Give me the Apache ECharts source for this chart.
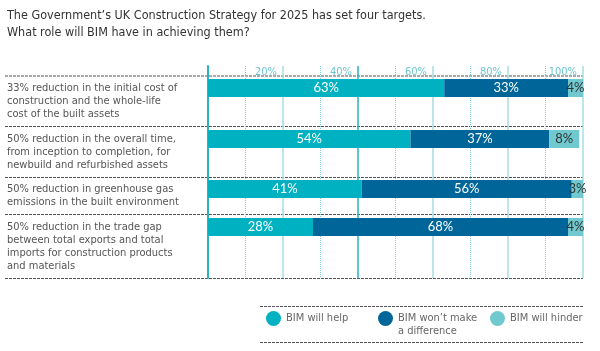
<!DOCTYPE html>
<html>
<head>
<meta charset="utf-8">
<script src="https://cdn.jsdelivr.net/npm/echarts@6/dist/echarts.min.js"></script>
<style>
  html, body { margin: 0; padding: 0; background: #fff; }
  #chart { width: 600px; height: 351px; }
</style>
</head>
<body>
<div id="chart"></div>
<script>
// 四个目标（类目）
const categories = [
  '33% reduction in the initial cost of\nconstruction and the whole-life\ncost of the built assets',
  '50% reduction in the overall time,\nfrom inception to completion, for\nnewbuild and refurbished assets',
  '50% reduction in greenhouse gas\nemissions in the built environment',
  '50% reduction in the trade gap\nbetween total exports and total\nimports for construction products\nand materials'
];
// 系列名称
const seriesNames = ['BIM will help', 'BIM won\u2019t make\na difference', 'BIM will hinder'];
// 各系列数值（%）
const helpValues = [63, 54, 41, 28];
const noDiffValues = [33, 37, 56, 68];
const hinderValues = [4, 8, 3, 4];
// 刻度标签
const tickLabels = ['', '20%', '40%', '60%', '80%', '100%'];

const colors = ['#00b1c1', '#00669a', '#6fc9cf'];
const labelColors = ['#fff', '#fff', '#333'];
const textFont = '"DejaVu Sans Condensed", sans-serif';

const chart = echarts.init(document.getElementById('chart'));

// 每一行的柱子位置
const rowTops = [79, 130, 180, 218];
const plotLeft = 208, plotRight = 17;

const grids = [{ left: plotLeft, right: plotRight, top: 66, height: 212 }];
const xAxes = [
  { // 虚线网格 10%
    gridIndex: 0, type: 'value', min: 0, max: 100, interval: 10,
    axisLine: { show: false }, axisTick: { show: false }, axisLabel: { show: false },
    splitLine: { show: true, lineStyle: { color: ['transparent', '#7ccdd6'], type: 'dotted', width: 1 } }
  },
  { // 实线网格 20%
    gridIndex: 0, type: 'value', min: 0, max: 100, interval: 20, position: 'top',
    axisLine: { show: false }, axisTick: { show: false },
    axisLabel: {
      inside: true, margin: 1, align: 'right', padding: [0, 6, 0, 0],
      color: '#6cc5cf', fontSize: 11, fontFamily: textFont,
      formatter: v => tickLabels[Math.round(v / 20)]
    },
    splitLine: { show: true, lineStyle: { color: ['#2ab2c0', '#a7dde3', '#2ab2c0', '#a7dde3', '#a7dde3', '#a7dde3'], width: 1.5 } }
  }
];
const yAxes = [{
  gridIndex: 0, type: 'value', min: 0, max: 1,
  axisLine: { show: true, lineStyle: { color: '#2ab2c0', width: 2 } },
  axisTick: { show: false }, axisLabel: { show: false }, splitLine: { show: false }
}];
const series = [];

categories.forEach((cat, i) => {
  const g = i + 1;
  grids.push({ left: plotLeft, right: plotRight, top: rowTops[i], height: 18 });
  xAxes.push({ gridIndex: g, type: 'value', min: 0, max: 100, show: false });
  yAxes.push({
    gridIndex: g, type: 'category', data: [cat],
    axisLine: { show: false }, axisTick: { show: false },
    axisLabel: {
      align: 'left', margin: 201, verticalAlign: 'top', lineHeight: 13.3,
      padding: [-7, 0, 0, 0], fontSize: 11, color: '#555', fontFamily: textFont
    }
  });
  [helpValues, noDiffValues, hinderValues].forEach((vals, k) => {
    series.push({
      name: seriesNames[k], type: 'bar', stack: 'row' + i,
      xAxisIndex: i + 2, yAxisIndex: g,
      barCategoryGap: 0, itemStyle: { color: colors[k] },
      label: {
        show: true, position: 'inside', formatter: '{c}%',
        color: labelColors[k], fontSize: 13, fontFamily: 'Lato, sans-serif'
      },
      data: [vals[i]]
    });
  });
});

// 虚线分隔线
const hLines = [76, 126.5, 177.5, 214.5, 278.5];
const graphic = hLines.map(y => ({
  type: 'line', shape: { x1: 5, y1: y, x2: 583, y2: y },
  style: { stroke: '#555', lineWidth: 1, lineDash: [3, 1] }
}));
[306.5, 342.5].forEach(y => graphic.push({
  type: 'line', shape: { x1: 260, y1: y, x2: 583, y2: y },
  style: { stroke: '#555', lineWidth: 1, lineDash: [3, 1] }
}));

const option = {
  animation: false,
  title: {
    text: 'The Government\u2019s UK Construction Strategy for 2025 has set four targets.\nWhat role will BIM have in achieving them?',
    left: 2, top: 2,
    textStyle: { fontSize: 12.5, fontWeight: 'normal', color: '#333', lineHeight: 17, fontFamily: textFont }
  },
  legend: {
    left: 261, top: 294, width: 330, itemWidth: 15, itemHeight: 15, itemGap: 0, icon: 'circle',
    formatter: name => name === seriesNames[1] ? '\n' + name : name,
    textStyle: { color: '#666', fontSize: 11, fontFamily: textFont, width: 92, lineHeight: 13 },
    data: [
      { name: seriesNames[0] },
      { name: seriesNames[1] },
      { name: seriesNames[2], textStyle: { width: 70 } }
    ]
  },
  grid: grids,
  xAxis: xAxes,
  yAxis: yAxes,
  graphic: graphic,
  series: series
};

chart.setOption(option);
window.addEventListener('resize', chart.resize);
</script>
</body>
</html>
